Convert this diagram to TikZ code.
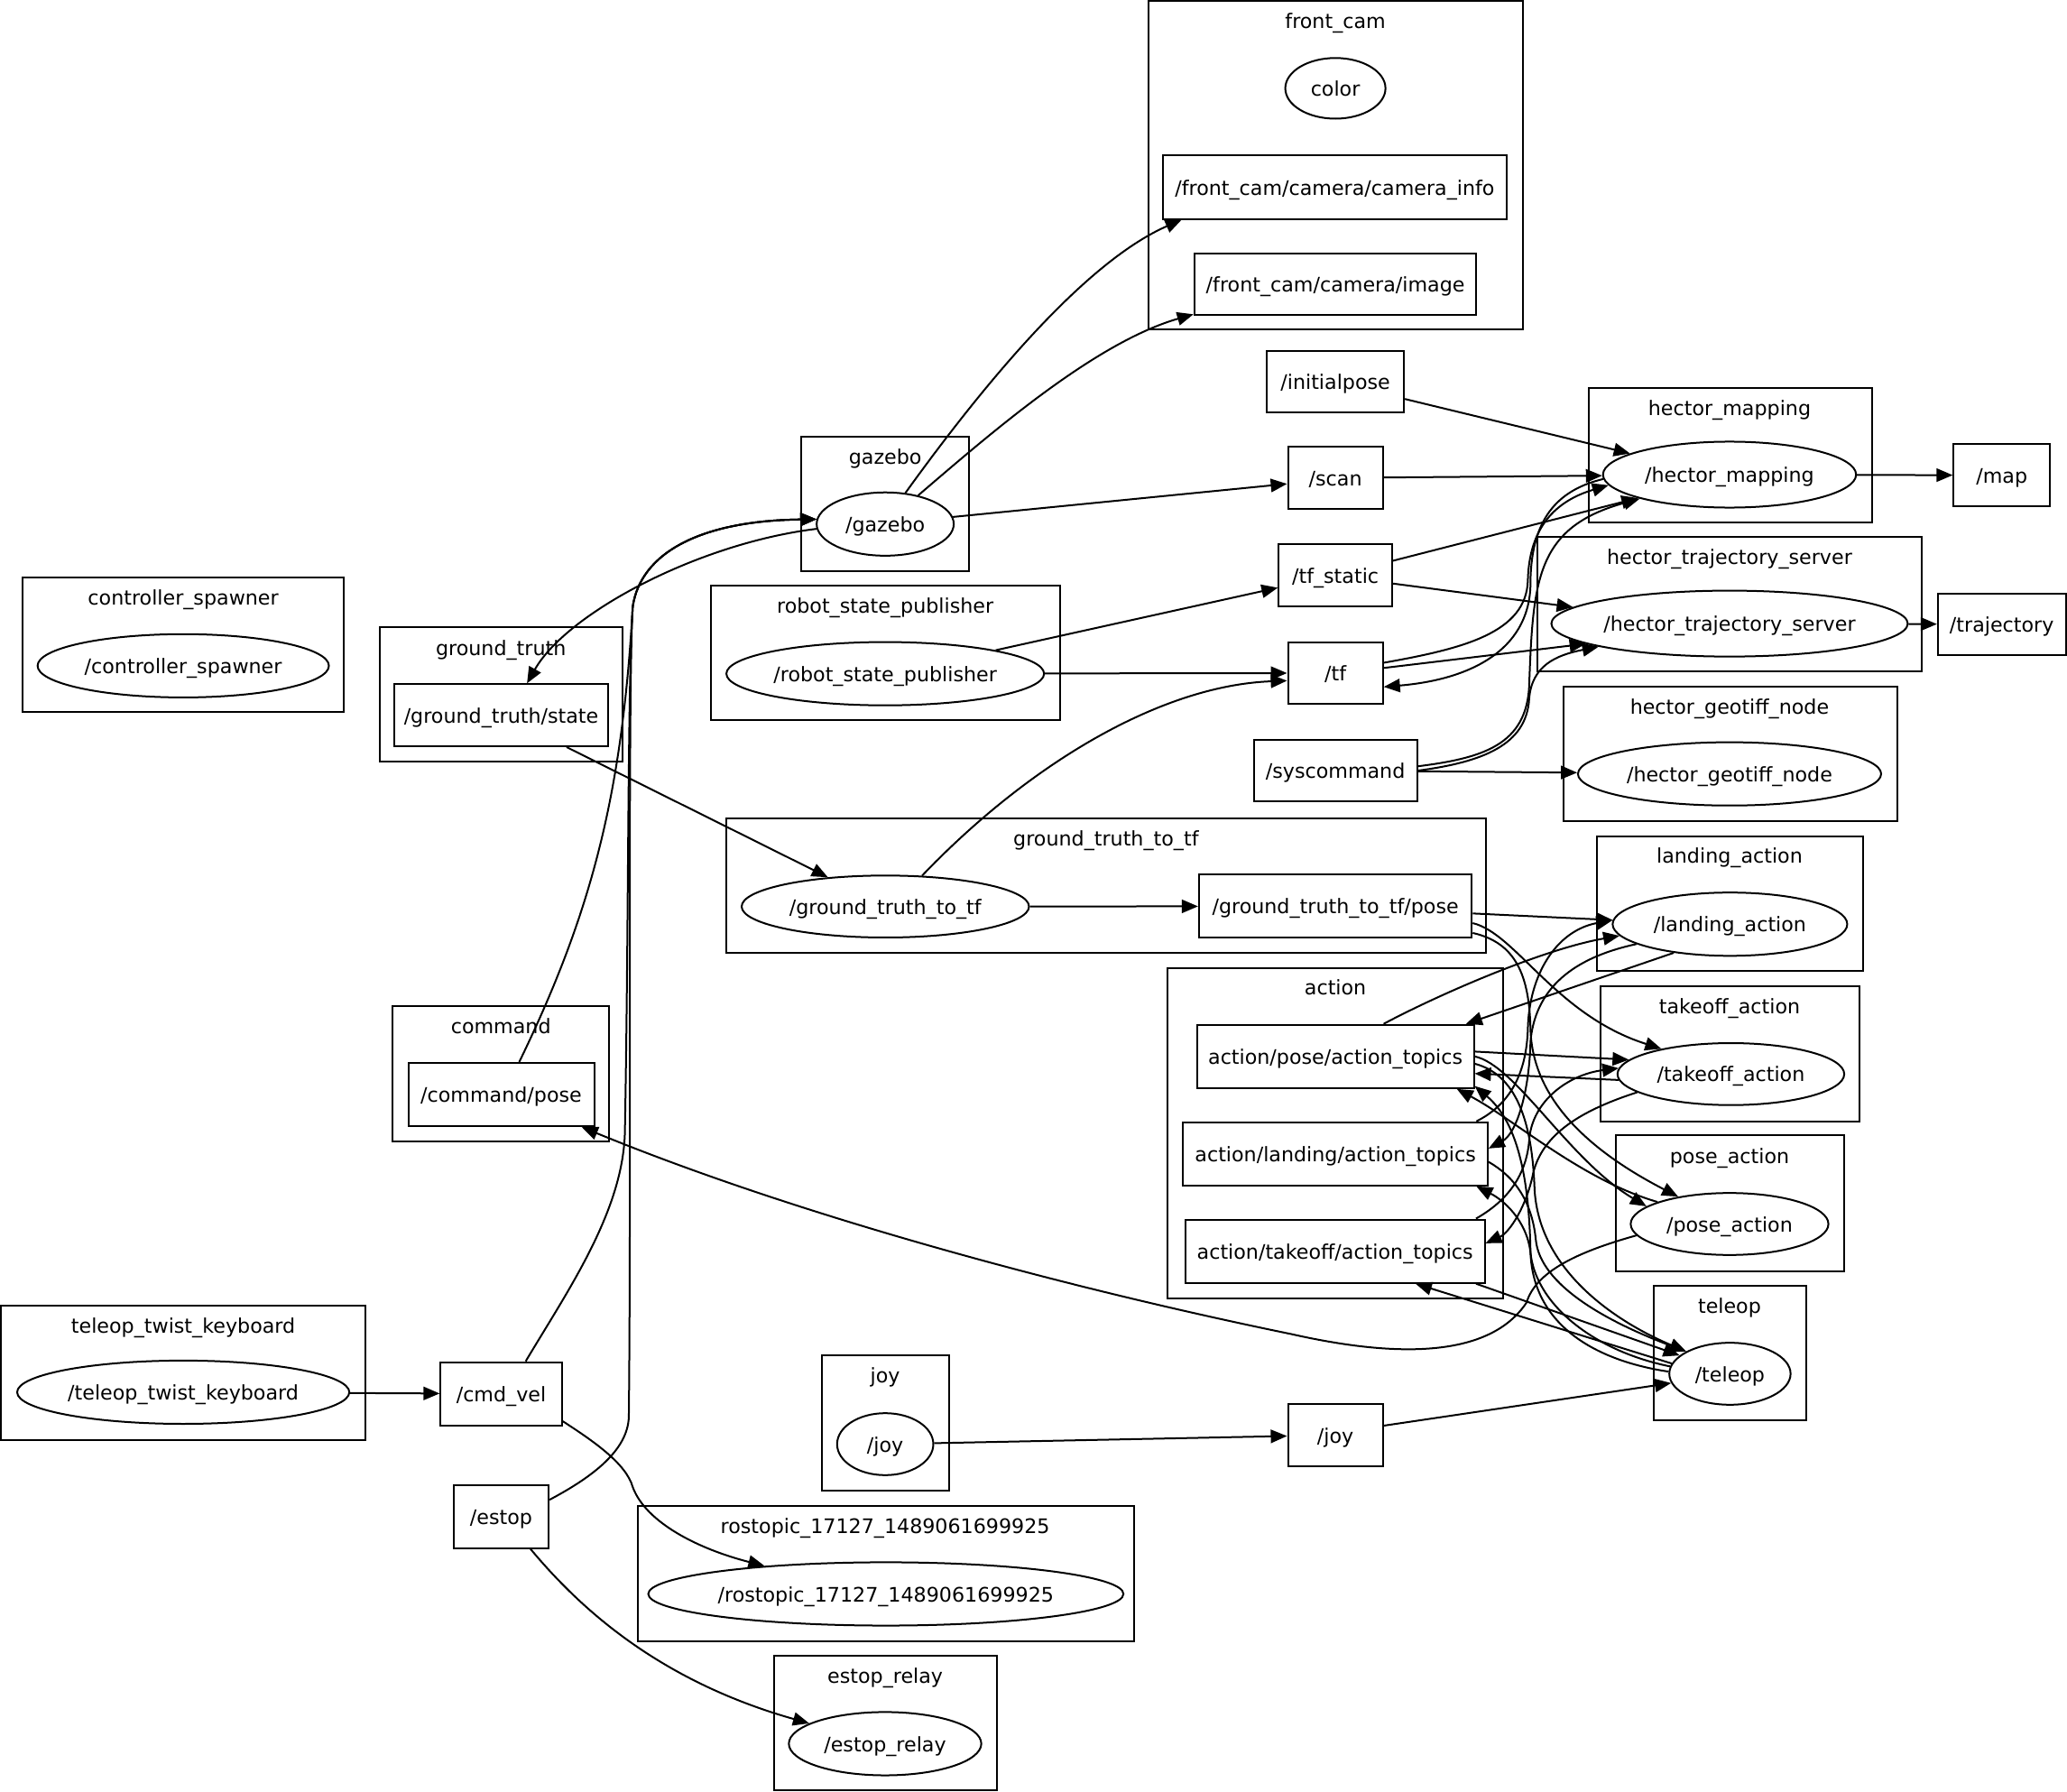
\documentclass[tikz,border=0pt]{standalone}
\usepackage{fontspec}
\setmainfont{DejaVu Sans}
\usetikzlibrary{shapes.geometric,arrows.meta}
\def\gu{0.7306pt}
\tikzset{
  sz/.style 2 args={minimum width=#1*\gu, minimum height=#2*\gu},
  box/.style={draw, rectangle, inner sep=0pt, line width=1pt},
  ell/.style={draw, ellipse, inner sep=0pt, line width=1pt},
  cl/.style={draw, line width=1pt},
  e/.style={line width=1pt, -{Triangle[length=9pt,width=7.4pt]}},
  every node/.style={text height=8.6pt, text depth=0pt},
}
\begin{document}
\begin{tikzpicture}[x=0.7306pt, y=-0.7306pt, font=\fontsize{11.1pt}{13.3pt}\selectfont]
\useasboundingbox (0,0) rectangle (1568,1359.2);
% clusters
\draw[cl] (871,1) rectangle (1155,250);        \node (lfrontcam) at (1013,16) {front\_cam};
\draw[cl] (1205,294) rectangle (1420,396);     \node (lhmap) at (1312,309) {hector\_mapping};
\draw[cl] (608,331) rectangle (735,433);       \node (lgazebo) at (671.5,346) {gazebo};
\draw[cl] (1166,407) rectangle (1458,509);     \node (lhts) at (1312,422) {hector\_trajectory\_server};
\draw[cl] (539,444) rectangle (804,546);       \node (lrsp) at (671.5,459) {robot\_state\_publisher};
\draw[cl] (17,438) rectangle (261,540);        \node (lcs) at (139,453) {controller\_spawner};
\draw[cl] (288,476) rectangle (472,577.5);     \node (lgt) at (380,491) {ground\_truth};
\draw[cl] (1186,521) rectangle (1439,623);     \node (lgeo) at (1312,536) {hector\_geotiff\_node};
\draw[cl] (551,621) rectangle (1127,722.5);    \node (lgtt) at (839,636) {ground\_truth\_to\_tf};
\draw[cl] (1211.5,634.3) rectangle (1413,736.7); \node (lland) at (1312,649) {landing\_action};
\draw[cl] (885.8,734.2) rectangle (1140,984.7);  \node (laction) at (1013,749) {action};
\draw[cl] (1214,748) rectangle (1410.5,850.6);   \node (ltake) at (1312,763) {takeoff\_action};
\draw[cl] (298,763.3) rectangle (462.3,865.8);   \node (lcmd) at (380,778) {command};
\draw[cl] (1225.6,861.3) rectangle (1398.6,964); \node (lpose) at (1312,877) {pose\_action};
\draw[cl] (1254.3,975.3) rectangle (1370.4,1077.3); \node (lteleop) at (1312,990) {teleop};
\draw[cl] (1,990) rectangle (277,1092);          \node (lttk) at (139,1005) {teleop\_twist\_keyboard};
\draw[cl] (623.4,1028.2) rectangle (719.7,1130.7); \node (ljoy) at (671.5,1043) {joy};
\draw[cl] (484,1142.2) rectangle (860,1244.7);   \node (lros) at (671.5,1157) {rostopic\_17127\_1489061699925};
\draw[cl] (586.9,1255.6) rectangle (756.3,1358); \node (lrelay) at (671.5,1271) {estop\_relay};
% nodes
\node[ell, sz={76}{46}] (color) at (1013,67) {color};
\node[box, sz={261}{48}] (caminfo) at (1012.5,142) {/front\_cam/camera/camera\_info};
\node[box, sz={214}{47}] (camimg) at (1013,215.5) {/front\_cam/camera/image};
\node[box, sz={104}{47}] (initpose) at (1013,289.5) {/initialpose};
\node[ell, sz={192}{50}] (hmap) at (1312,360) {/hector\_mapping};
\node[box, sz={73}{47}] (map) at (1518.5,360.5) {/map};
\node[ell, sz={104}{48}] (gazebo) at (671.5,397.5) {/gazebo};
\node[box, sz={72}{47}] (scan) at (1013,362.5) {/scan};
\node[ell, sz={270}{50}] (hts) at (1312,473) {/hector\_trajectory\_server};
\node[box, sz={97}{47}] (traj) at (1518.5,473.5) {/trajectory};
\node[box, sz={86}{47}] (tfstatic) at (1013,436.5) {/tf\_static};
\node[ell, sz={241}{48}] (rsp) at (671.5,511) {/robot\_state\_publisher};
\node[box, sz={72}{47}] (tf) at (1013,510.5) {/tf};
\node[ell, sz={221}{48}] (cs) at (139,505) {/controller\_spawner};
\node[box, sz={162}{47}] (gtstate) at (380.2,542.5) {/ground\_truth/state};
\node[box, sz={124}{47}] (syscmd) at (1013,584.5) {/syscommand};
\node[ell, sz={230}{48}] (geotiff) at (1312,587) {/hector\_geotiff\_node};
\node[ell, sz={218}{47}] (gtt) at (671.6,687.6) {/ground\_truth\_to\_tf};
\node[box, sz={207}{48}] (gttpose) at (1013,687.4) {/ground\_truth\_to\_tf/pose};
\node[ell, sz={178}{48}] (landing) at (1312.3,701) {/landing\_action};
\node[box, sz={210}{48}] (apose) at (1013,801.3) {action/pose/action\_topics};
\node[box, sz={231}{48}] (aland) at (1013,875.2) {action/landing/action\_topics};
\node[box, sz={227}{48}] (atake) at (1012.7,949) {action/takeoff/action\_topics};
\node[ell, sz={172}{47}] (takeoff) at (1313,814.7) {/takeoff\_action};
\node[ell, sz={150}{47}] (poseact) at (1312,928.4) {/pose\_action};
\node[ell, sz={92}{47}] (teleop) at (1312.3,1042) {/teleop};
\node[box, sz={141}{48}] (cmdpose) at (380.2,830.2) {/command/pose};
\node[ell, sz={252}{48}] (ttk) at (139,1056) {/teleop\_twist\_keyboard};
\node[box, sz={92}{48}] (cmdvel) at (380.2,1057.2) {/cmd\_vel};
\node[ell, sz={73}{47}] (joyn) at (671.5,1095.4) {/joy};
\node[box, sz={72}{47}] (joyt) at (1013,1088.5) {/joy};
\node[box, sz={72}{48}] (estop) at (380.2,1150.2) {/estop};
\node[ell, sz={352}{48}] (rostopic) at (672,1209) {/rostopic\_17127\_1489061699925};
\node[ell, sz={146}{48}] (relay) at (671.4,1322.6) {/estop\_relay};
% edges: left / middle
\draw[e] (gazebo.57) .. controls (740,300) and (820,200) .. (caminfo.192);
\draw[e] (gazebo.41) .. controls (750,330) and (830,260) .. (camimg.192);
\draw[e] (gazebo.6) -- (scan.187);
\draw[e] (gazebo.184) .. controls (530,412) and (430,465) .. (gtstate.51);
\draw[e] (cmdpose.61) .. controls (450,690) and (472,600) .. (480,460) .. controls (486,420) and (530,395) .. (gazebo.176);
\draw[e] (cmdvel.53) .. controls (430,980) and (472,920) .. (474,860) .. controls (477,700) and (476,520) .. (480,460) .. controls (486,420) and (530,395) .. (gazebo.176);
\draw[e] (estop.19) .. controls (450,1120) and (476,1100) .. (477,1075) .. controls (479,900) and (476,520) .. (480,460) .. controls (486,420) and (530,395) .. (gazebo.176);
\draw[e] (gtstate.-26) -- (gtt.153);
\draw[e] (gtt.40) .. controls (780,580) and (880,520) .. (tf.189);
\draw[e] (gtt) -- (gttpose);
\draw[e] (rsp.12) -- (tfstatic.192);
\draw[e] (rsp) -- (tf);
\draw[e] (initpose.-14) -- (hmap.168);
\draw[e] (scan) -- (hmap);
\draw[e] (tfstatic) -- (hmap);
\draw[e] (tfstatic.-8) -- (hts.174);
\draw[e] (tf.12) .. controls (1110,492) and (1158,480) .. (1159,440) .. controls (1160,400) and (1180,380) .. (hmap.185);
\draw[e] (hmap.182) .. controls (1180,372) and (1162,395) .. (1161,440) .. controls (1162,490) and (1120,515) .. (tf.-16);
\draw[e] (syscmd.3) .. controls (1125,575) and (1158,565) .. (1160,520) .. controls (1163,440) and (1165,400) .. (hmap.195);
\draw[e] (syscmd.0) .. controls (1125,578) and (1158,565) .. (1160,530) .. controls (1162,505) and (1180,497) .. (hts.190);
\draw[e] (tf.6) -- (hts.188);
\draw[e] (hmap) -- (map);
\draw[e] (hts) -- (traj);
\draw[e] (syscmd) -- (geotiff);
% edges: action area
\draw[e] (gttpose.-3) -- (landing.178);
\draw[e] (gttpose.-7) .. controls (1150,708) and (1180,770) .. (takeoff.160);
\draw[e] (gttpose.-11) .. controls (1150,715) and (1160,740) .. (1161,780) .. controls (1162,830) and (1200,870) .. (poseact.152);
\draw[e] (landing.207) -- (apose.14);
\draw[e] (apose.34) .. controls (1090,755) and (1170,720) .. (landing.186);
\draw[e] (aland.13) .. controls (1145,838) and (1158,815) .. (1159,780) .. controls (1160,740) and (1180,706) .. (landing.178);
\draw[e] (landing.192) .. controls (1200,725) and (1165,745) .. (1161,790) .. controls (1160,830) and (1150,860) .. (aland.2);
\draw[e] (apose.2) -- (takeoff.172);
\draw[e] (takeoff.183) -- (apose.-7);
\draw[e] (atake.13) .. controls (1145,910) and (1158,890) .. (1160,865) .. controls (1162,835) and (1190,815) .. (takeoff.177);
\draw[e] (takeoff.191) .. controls (1200,842) and (1170,860) .. (1163,890) .. controls (1158,915) and (1145,935) .. (atake.3);
\draw[e] (apose.0) .. controls (1150,808) and (1190,880) .. (poseact.168);
\draw[e] (poseact.163) .. controls (1200,895) and (1150,850) .. (apose.-15);
\draw[e] (apose.-3) .. controls (1150,815) and (1162,850) .. (1164,900) .. controls (1166,960) and (1220,1000) .. (teleop.153);
\draw[e] (aland.-3) .. controls (1148,892) and (1162,910) .. (1165,940) .. controls (1168,975) and (1220,1003) .. (teleop.153);
\draw[e] (atake.-13) -- (teleop.160);
\draw[e] (teleop.170) -- (atake.-22);
\draw[e] (teleop.173) .. controls (1210,1025) and (1165,990) .. (1161,950) .. controls (1158,925) and (1140,910) .. (aland.-13);
\draw[e] (teleop.178) .. controls (1210,1032) and (1163,1005) .. (1161,950) .. controls (1160,890) and (1150,850) .. (apose.-12);
\draw[e] (poseact.187) .. controls (1195,950) and (1165,965) .. (1158,988) .. controls (1130,1030) and (1060,1030) .. (980,1012) .. controls (800,975) and (600,920) .. (cmdpose.-22);
% edges: bottom
\draw[e] (joyn) -- (joyt);
\draw[e] (joyt.11) -- (teleop.189);
\draw[e] (ttk) -- (cmdvel);
\draw[e] (cmdvel.-24) .. controls (450,1093) and (475,1110) .. (480,1128) .. controls (490,1155) and (530,1175) .. (rostopic.167);
\draw[e] (estop.-48) .. controls (440,1220) and (500,1275) .. (relay.165);
\end{tikzpicture}
\end{document}
